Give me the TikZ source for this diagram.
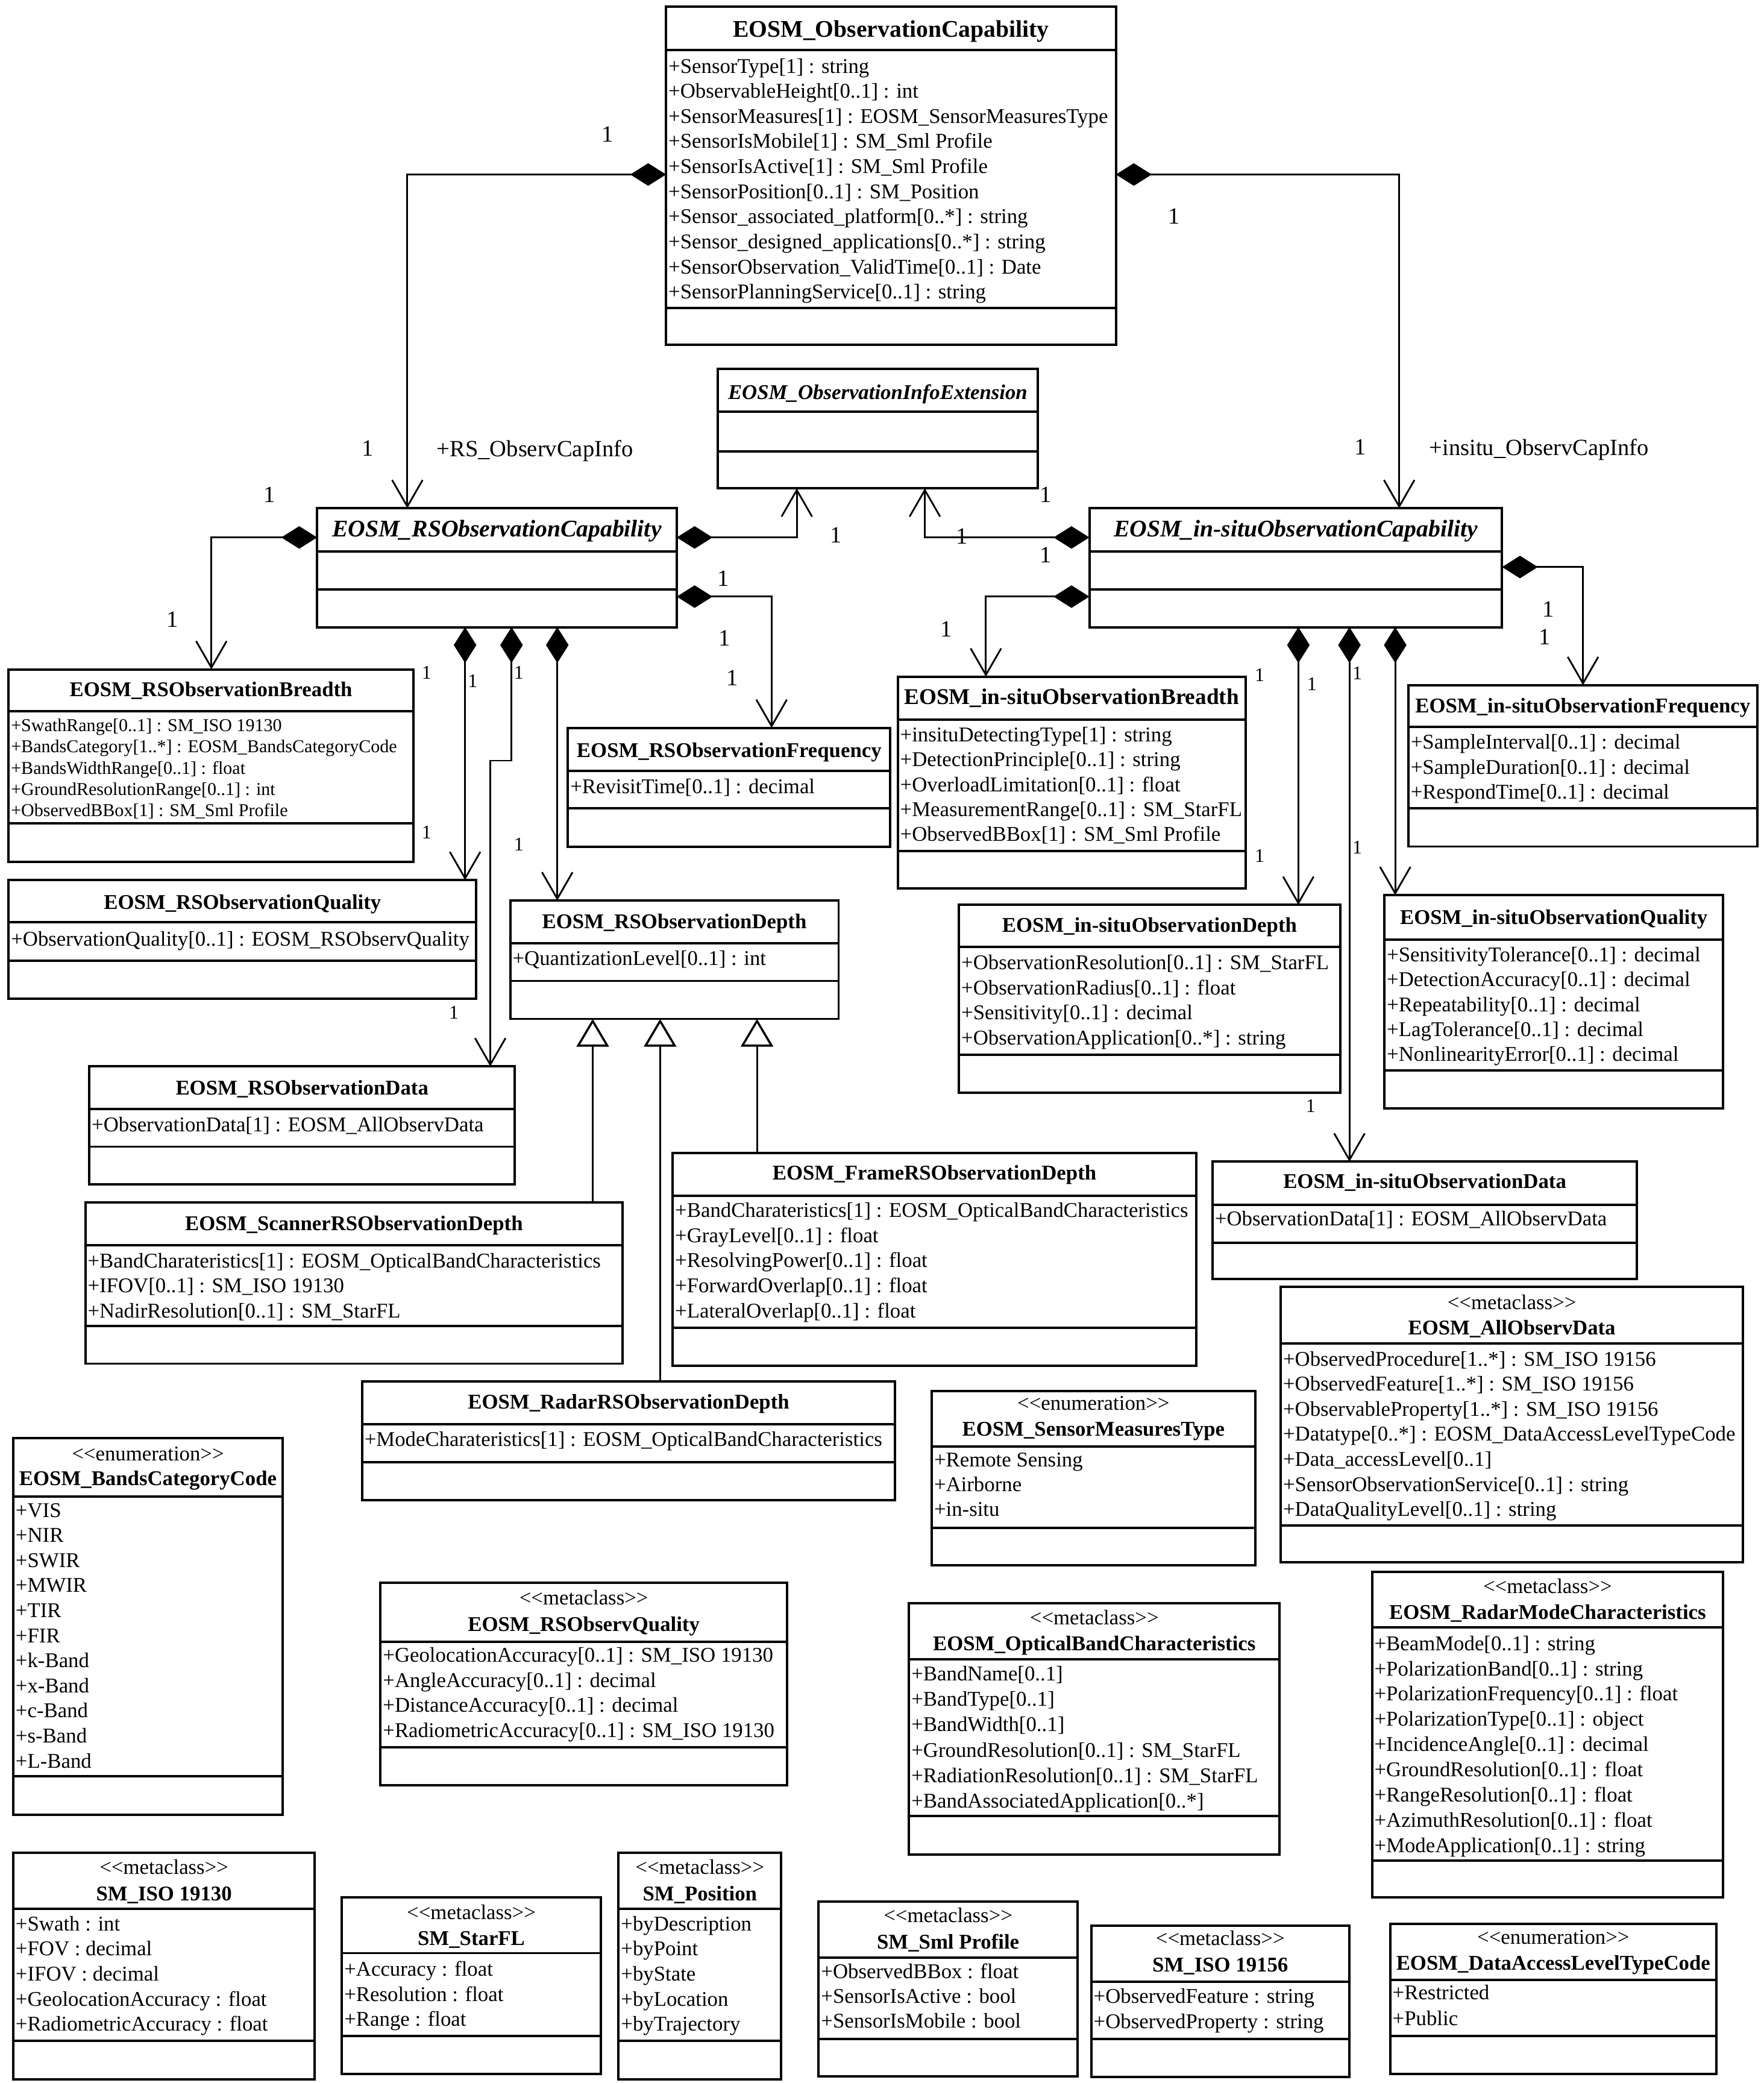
\documentclass[tikz,border=0pt]{standalone}
\usepackage{fontspec}
\setmainfont{Liberation Serif}
\usetikzlibrary{arrows.meta}
\newcommand\stl{\textless\kern0pt\textless}
\newcommand\stg{\textgreater\kern0pt\textgreater}
\tikzset{
  umlbox/.style={draw, line width=1.8pt, inner sep=0pt, outer sep=0pt, anchor=north west},
  divl/.style={line width=1.8pt},
  body/.style={font=\fontsize{15.8}{19}\selectfont, inner sep=0pt},
  smallbody/.style={font=\fontsize{13.65}{16}\selectfont, inner sep=0pt},
  ttl/.style={font=\fontsize{15.8}{19}\selectfont\bfseries, inner sep=0pt},
  ttlg/.style={font=\fontsize{16.9}{19}\selectfont\bfseries, inner sep=0pt},
  ittl/.style={font=\fontsize{15.8}{19}\selectfont\bfseries\itshape, inner sep=0pt},
  bigttl/.style={font=\fontsize{18}{21}\selectfont\bfseries, inner sep=0pt},
  bigittl/.style={font=\fontsize{18}{21}\selectfont\bfseries\itshape, inner sep=0pt},
  lbl/.style={font=\fontsize{17.5}{20}\selectfont, inner sep=0pt},
  slbl/.style={font=\fontsize{14.5}{17}\selectfont, inner sep=0pt},
  conn/.style={line width=1.3pt},
  comp/.style={conn, {Diamond[length=27pt,width=17pt]}-{Straight Barb[length=20pt,width=23pt]}},
  gen/.style={conn, -{Triangle[open,length=21pt,width=24.4pt,line width=1.6pt]}},
}
\newcommand\ubox[7]{%
  \xdef\bname{#1}\xdef\bl{#2}\xdef\br{#4}%
  \node[umlbox, minimum width={(#4-#2)*1pt}, minimum height={(#5-#3)*1pt}] (#1) at (#2,#3) {};
  \draw[divl] (#1.west |- 0,#6) -- (#1.east |- 0,#6);
  \draw[divl] (#1.west |- 0,#7) -- (#1.east |- 0,#7);
}
\newcommand\utitle[3]{\node[anchor=base,#1] (\bname-t) at ({(\bl+\br)/2},#2) {#3};}
\newcommand\ustereo[2]{\node[anchor=base,body] (\bname-s) at ({(\bl+\br)/2},#1) {\stl#2\stg};}
\newcommand\uattrs[4]{\foreach \txt [count=\i] in {#4}{\pgfmathsetmacro\yy{#2+(\i-1)*#3}\node[anchor=base west,#1] (\bname-a\i) at (\bl+1.6,\yy) {\txt};}}
\begin{document}
\begin{tikzpicture}[x=1pt,y=-1pt]
\fill[white] (0,0) rectangle (1329,1569.7);
\useasboundingbox (0,0) rectangle (1329,1569.7);

% A
\ubox{oc}{502}{5}{841}{260}{37.5}{232}
\utitle{bigttl}{28}{EOSM\_ObservationCapability}
\uattrs{body}{55}{18.9}{+SensorType[1] : string,+ObservableHeight[0..1] : int,+SensorMeasures[1] : EOSM\_SensorMeasuresType,+SensorIsMobile[1] : SM\_Sml Profile,+SensorIsActive[1] : SM\_Sml Profile,+SensorPosition[0..1] : SM\_Position,+Sensor\_associated\_platform[0..*] : string,+Sensor\_designed\_applications[0..*] : string,+SensorObservation\_ValidTime[0..1] : Date,+SensorPlanningService[0..1] : string}

% B
\ubox{oie}{541}{278}{782}{368}{310}{340}
\utitle{ittl}{301}{EOSM\_ObservationInfoExtension}

% C
\ubox{rsoc}{239}{383}{510}{472.6}{415.5}{444}
\utitle{bigittl}{404.5}{EOSM\_RSObservationCapability}

% D
\ubox{isoc}{821}{383}{1132}{472.6}{415.5}{444}
\utitle{bigittl}{404.5}{EOSM\_in-situObservationCapability}

% E
\ubox{rsb}{6.5}{504.4}{311.5}{649.7}{536}{620.6}
\utitle{ttl}{525}{EOSM\_RSObservationBreadth}
\uattrs{smallbody}{551.2}{16}{+SwathRange[0..1] : SM\_ISO 19130,+BandsCategory[1..*] : EOSM\_BandsCategoryCode,+BandsWidthRange[0..1] : float,+GroundResolutionRange[0..1] : int,+ObservedBBox[1] : SM\_Sml Profile}

% F
\ubox{rsf}{428}{548.5}{671}{638}{580.7}{609}
\utitle{ttl}{570.5}{EOSM\_RSObservationFrequency}
\uattrs{body}{598}{19}{+RevisitTime[0..1] : decimal}

% G
\ubox{isb}{676.6}{509.9}{938.6}{669.5}{542.1}{641.5}
\utitle{ttlg}{530.6}{EOSM\_in-situObservationBreadth}
\uattrs{body}{558.9}{18.75}{+insituDetectingType[1] : string,+DetectionPrinciple[0..1] : string,+OverloadLimitation[0..1] : float,+MeasurementRange[0..1] : SM\_StarFL,+ObservedBBox[1] : SM\_Sml Profile}

% H
\ubox{isf}{1061.4}{516.3}{1324.3}{637.9}{547.9}{609}
\utitle{ttl}{536.9}{EOSM\_in-situObservationFrequency}
\uattrs{body}{564.4}{18.85}{+SampleInterval[0..1] : decimal,+SampleDuration[0..1] : decimal,+RespondTime[0..1] : decimal}

% I
\ubox{rsq}{6.5}{663.2}{359}{752.6}{695.1}{723.8}
\utitle{ttl}{685.2}{EOSM\_RSObservationQuality}
\uattrs{body}{712.7}{19}{+ObservationQuality[0..1] : EOSM\_RSObservQuality}

% J
\ubox{rsd}{384.5}{678.6}{632}{767.8}{710.8}{739.2}
\utitle{ttl}{699.8}{EOSM\_RSObservationDepth}
\uattrs{body}{727.3}{19}{+QuantizationLevel[0..1] : int}

% K
\ubox{isd}{722.7}{681.9}{1010}{823.6}{713.6}{794.8}
\utitle{ttl}{702.6}{EOSM\_in-situObservationDepth}
\uattrs{body}{730.6}{18.9}{+ObservationResolution[0..1] : SM\_StarFL,+ObservationRadius[0..1] : float,+Sensitivity[0..1] : decimal,+ObservationApplication[0..*] : string}

% L
\ubox{isq}{1043.4}{674.5}{1298.6}{835.2}{708.1}{806.6}
\utitle{ttl}{696.5}{EOSM\_in-situObservationQuality}
\uattrs{body}{724.6}{18.8}{+SensitivityTolerance[0..1] : decimal,+DetectionAccuracy[0..1] : decimal,+Repeatability[0..1] : decimal,+LagTolerance[0..1] : decimal,+NonlinearityError[0..1] : decimal}

% M
\ubox{rsdata}{67.3}{803.6}{388}{892.5}{835.5}{864.1}
\utitle{ttl}{825}{EOSM\_RSObservationData}
\uattrs{body}{852.6}{19}{+ObservationData[1] : EOSM\_AllObservData}

% N
\ubox{frame}{507}{868.8}{901.5}{1029.2}{901}{1000.5}
\utitle{ttl}{889}{EOSM\_FrameRSObservationDepth}
\uattrs{body}{917.3}{18.9}{+BandCharateristics[1] : EOSM\_OpticalBandCharacteristics,+GrayLevel[0..1] : float,+ResolvingPower[0..1] : float,+ForwardOverlap[0..1] : float,+LateralOverlap[0..1] : float}

% O
\ubox{isdata}{913.8}{875.4}{1233.7}{963.6}{907.9}{936.4}
\utitle{ttl}{895.6}{EOSM\_in-situObservationData}
\uattrs{body}{923.8}{19}{+ObservationData[1] : EOSM\_AllObservData}

% P
\ubox{scanner}{64.3}{906}{469.3}{1027.6}{938.4}{999.2}
\utitle{ttl}{927}{EOSM\_ScannerRSObservationDepth}
\uattrs{body}{955.3}{18.8}{+BandCharateristics[1] : EOSM\_OpticalBandCharacteristics,+IFOV[0..1] : SM\_ISO 19130,+NadirResolution[0..1] : SM\_StarFL}

% Q
\ubox{allod}{965.2}{969.9}{1313.6}{1177.3}{1012.4}{1149.7}
\ustereo{986.8}{metaclass}
\utitle{ttl}{1005.9}{EOSM\_AllObservData}
\uattrs{body}{1029.2}{18.9}{+ObservedProcedure[1..*] : SM\_ISO 19156,+ObservedFeature[1..*] : SM\_ISO 19156,+ObservableProperty[1..*] : SM\_ISO 19156,+Datatype[0..*] : EOSM\_DataAccessLevelTypeCode,+Data\_accessLevel[0..1],+SensorObservationService[0..1] : string,+DataQualityLevel[0..1] : string}

% R
\ubox{radar}{272.9}{1041.1}{674.6}{1130.6}{1073.3}{1102}
\utitle{ttl}{1061.8}{EOSM\_RadarRSObservationDepth}
\uattrs{body}{1090}{19}{+ModeCharateristics[1] : EOSM\_OpticalBandCharacteristics}

% S
\ubox{smt}{702.2}{1048.1}{945.9}{1179.7}{1090}{1151.3}
\ustereo{1062.8}{enumeration}
\utitle{ttl}{1082}{EOSM\_SensorMeasuresType}
\uattrs{body}{1105.2}{18.7}{+Remote Sensing,+Airborne,+in-situ}

% T
\ubox{bcc}{10}{1083.5}{213}{1367.4}{1127.6}{1338.4}
\ustereo{1100.9}{enumeration}
\utitle{ttl}{1119.3}{EOSM\_BandsCategoryCode}
\uattrs{body}{1143.2}{18.9}{+VIS,+NIR,+SWIR,+MWIR,+TIR,+FIR,+k-Band,+x-Band,+c-Band,+s-Band,+L-Band}

% U
\ubox{rsoq}{286.8}{1192.8}{593.1}{1345.3}{1237}{1316.8}
\ustereo{1209.4}{metaclass}
\utitle{ttl}{1229.3}{EOSM\_RSObservQuality}
\uattrs{body}{1252.3}{19}{+GeolocationAccuracy[0..1] : SM\_ISO 19130,+AngleAccuracy[0..1] : decimal,+DistanceAccuracy[0..1] : decimal,+RadiometricAccuracy[0..1] : SM\_ISO 19130}

% V
\ubox{obc}{685.1}{1208.2}{964.3}{1397.4}{1250.3}{1368.6}
\ustereo{1224.3}{metaclass}
\utitle{ttl}{1243.6}{EOSM\_OpticalBandCharacteristics}
\uattrs{body}{1266.4}{19.2}{+BandName[0..1],+BandType[0..1],+BandWidth[0..1],+GroundResolution[0..1] : SM\_StarFL,+RadiationResolution[0..1] : SM\_StarFL,+BandAssociatedApplication[0..*]}

% W
\ubox{rmc}{1034}{1184.6}{1298.6}{1429.6}{1226.3}{1402.3}
\ustereo{1200.7}{metaclass}
\utitle{ttl}{1220.1}{EOSM\_RadarModeCharacteristics}
\uattrs{body}{1243.6}{19.06}{+BeamMode[0..1] : string,+PolarizationBand[0..1] : string,+PolarizationFrequency[0..1] : float,+PolarizationType[0..1] : object,+IncidenceAngle[0..1] : decimal,+GroundResolution[0..1] : float,+RangeResolution[0..1] : float,+AzimuthResolution[0..1] : float,+ModeApplication[0..1] : string}

% X
\ubox{isoa}{10}{1396.1}{237.2}{1567}{1438.3}{1538}
\ustereo{1412.2}{metaclass}
\utitle{ttl}{1432.1}{SM\_ISO 19130}
\uattrs{body}{1454.9}{18.9}{+Swath : int,+FOV : decimal,+IFOV : decimal,+GeolocationAccuracy : float,+RadiometricAccuracy : float}

% Y
\ubox{starfl}{257.7}{1429.6}{452.7}{1562.8}{1471.8}{1534.2}
\ustereo{1446.2}{metaclass}
\utitle{ttl}{1466}{SM\_StarFL}
\uattrs{body}{1489.1}{18.85}{+Accuracy : float,+Resolution : float,+Range : float}

% Z
\ubox{pos}{466.2}{1396.1}{588.7}{1567}{1438.3}{1538}
\ustereo{1412.2}{metaclass}
\utitle{ttl}{1432.1}{SM\_Position}
\uattrs{body}{1454.9}{18.9}{+byDescription,+byPoint,+byState,+byLocation,+byTrajectory}

% AA
\ubox{sml}{617}{1433.1}{812}{1564.7}{1475.2}{1536.7}
\ustereo{1448.7}{metaclass}
\utitle{ttl}{1468.5}{SM\_Sml Profile}
\uattrs{body}{1490.9}{18.6}{+ObservedBBox : float,+SensorIsActive : bool,+SensorIsMobile : bool}

% AB
\ubox{isob}{822.4}{1451.2}{1016.9}{1565.2}{1493.3}{1536.7}
\ustereo{1466}{metaclass}
\utitle{ttl}{1485.9}{SM\_ISO 19156}
\uattrs{body}{1509.4}{19.1}{+ObservedFeature : string,+ObservedProperty : string}

% AC
\ubox{dal}{1047.7}{1449.9}{1293.5}{1562.8}{1492.1}{1534.2}
\ustereo{1464.8}{enumeration}
\utitle{ttl}{1484.7}{EOSM\_DataAccessLevelTypeCode}
\uattrs{body}{1507}{19.3}{+Restricted,+Public}

% composition connectors
\draw[comp] (oc.west |- 0,131.5) -| (rsoc.north -| 307,0);
\draw[comp] (oc.east |- 0,131.5) -| (isoc.north -| 1054.5,0);
\draw[comp] (rsoc.east |- 0,405) -| (oie.south -| 600.5,0);
\draw[comp] (isoc.west |- 0,405) -| (oie.south -| 697,0);
\draw[comp] (rsoc.west |- 0,405) -| (rsb.north -| 159.3,0);
\draw[comp] (rsoc.east |- 0,449.6) -| (rsf.north -| 581.5,0);
\draw[comp] (isoc.west |- 0,449.6) -| (isb.north -| 743,0);
\draw[comp] (isoc.east |- 0,427.3) -| (isf.north -| 1193,0);
\draw[comp] (rsoc.south -| 350.5,0) -- (rsq.north -| 350.5,0);
\draw[comp] (rsoc.south -| 385.5,0) -- (385.5,573.2) -- (369.5,573.2) -- (rsdata.north -| 369.5,0);
\draw[comp] (rsoc.south -| 420,0) -- (rsd.north -| 420,0);
\draw[comp] (isoc.south -| 978.5,0) -- (isd.north -| 978.5,0);
\draw[comp] (isoc.south -| 1017,0) -- (isdata.north -| 1017,0);
\draw[comp] (isoc.south -| 1051.5,0) -- (isq.north -| 1051.5,0);

% generalizations
\draw[gen] (scanner.north -| 446.7,0) -- (rsd.south -| 446.7,0);
\draw[gen] (radar.north -| 497.5,0) -- (rsd.south -| 497.5,0);
\draw[gen] (frame.north -| 570.5,0) -- (rsd.south -| 570.5,0);

% role names
\node[lbl, anchor=base west] (role1) at (329,344) {+RS\_ObservCapInfo};
\node[lbl, anchor=base west] (role2) at (1077,343) {+insitu\_ObservCapInfo};

% multiplicities (upper)
\node[lbl] (m1) at (458,101) {1};
\node[lbl] (m2) at (885,163) {1};
\node[lbl] (m3) at (277,338) {1};
\node[lbl] (m4) at (1025,337) {1};
\node[lbl] (m5) at (203,373) {1};
\node[lbl] (m6) at (130,467) {1};
\node[lbl] (m7) at (630,403) {1};
\node[lbl] (m8) at (725,404) {1};
\node[lbl] (m9) at (788,373) {1};
\node[lbl] (m10) at (788,418) {1};
\node[lbl] (m11) at (545,436) {1};
\node[lbl] (m12) at (546,481) {1};
\node[lbl] (m13) at (552,511) {1};
\node[lbl] (m14) at (1167,459) {1};
\node[lbl] (m15) at (1164,480) {1};
\node[lbl] (m16) at (713,474) {1};
% multiplicities (lower)
\node[slbl] (n1) at (321.5,507) {1};
\node[slbl] (n2) at (356.3,513) {1};
\node[slbl] (n3) at (391,507) {1};
\node[slbl] (n4) at (321.5,627) {1};
\node[slbl] (n5) at (391,636.5) {1};
\node[slbl] (n6) at (342,763) {1};
\node[slbl] (n7) at (949.3,508.5) {1};
\node[slbl] (n8) at (988.7,515.4) {1};
\node[slbl] (n9) at (1022.9,507.2) {1};
\node[slbl] (n10) at (949.3,644.8) {1};
\node[slbl] (n11) at (1022.9,638.7) {1};
\node[slbl] (n12) at (987.8,833.3) {1};
\end{tikzpicture}
\end{document}
